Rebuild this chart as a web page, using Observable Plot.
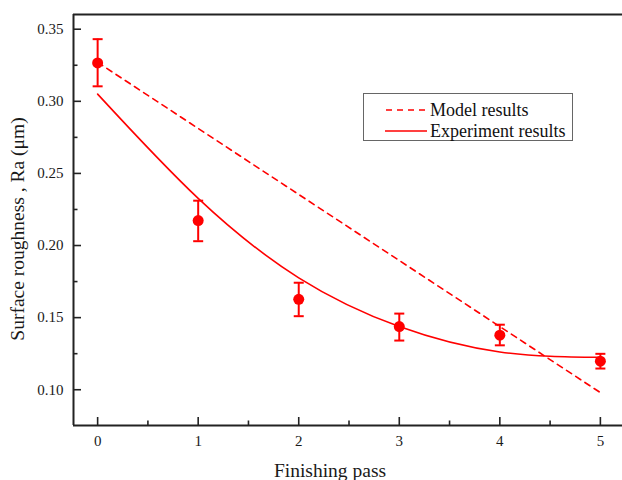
<!DOCTYPE html>
<html>
<head>
<meta charset="utf-8">
<script src="https://cdn.jsdelivr.net/npm/d3@7"></script>
<script src="https://cdn.jsdelivr.net/npm/@observablehq/plot@0.6"></script>
<style>
  body { margin: 0; background: #fff; }
  #wrap { position: relative; width: 622px; height: 480px; }
  #legend {
    position: absolute; left: 363px; top: 93px; width: 210px; height: 48px;
    border: 1px solid #666; background: #fff;
    font-family: "Liberation Serif", "Times New Roman", serif; font-size: 18px; color: #111;
    box-sizing: border-box;
  }
  .row { position: absolute; left: 21px; display: flex; align-items: center; line-height: 20px; }
  .row svg { margin-right: 3px; }
</style>
</head>
<body>
<div id="wrap">
  <div id="chart"></div>
  <div id="legend">
    <div class="row" style="top:6px"><svg width="42" height="10"><line x1="1" y1="5" x2="42" y2="5" stroke="#f00" stroke-width="1.6" stroke-dasharray="6,5"/></svg><span>Model results</span></div>
    <div class="row" style="top:27px"><svg width="42" height="10"><line x1="0" y1="5" x2="42" y2="5" stroke="#f00" stroke-width="1.6"/></svg><span>Experiment results</span></div>
  </div>
</div>
<script>
// ---- data ----
const passes   = [0, 1, 2, 3, 4, 5];
const measured = [0.3266, 0.2173, 0.1627, 0.1438, 0.1378, 0.1198];
const errLow   = [0.3104, 0.2030, 0.1510, 0.1341, 0.1308, 0.1147];
const errHigh  = [0.3431, 0.2311, 0.1742, 0.1528, 0.1451, 0.1249];

const modelX = [0, 5];
const modelY = [0.327, 0.098];

const fitX = [0, 1, 2, 3, 4, 5];
const fitY = [0.305, 0.2327, 0.1776, 0.1438, 0.1262, 0.1225];

const xTicks = [0, 1, 2, 3, 4, 5];
const xMinor = [0.5, 1.5, 2.5, 3.5, 4.5];
const yTicks = [0.10, 0.15, 0.20, 0.25, 0.30, 0.35];
const yMinor = [0.125, 0.175, 0.225, 0.275, 0.325];

const xDomain = [-0.24, 5.22];
const yDomain = [0.0752, 0.3602];

const xTitle = "Finishing pass";
const yTitle = "Surface roughness , Ra (μm)";

// ---- build ----
const pts = passes.map((p, i) => ({x: p, y: measured[i], lo: errLow[i], hi: errHigh[i]}));
const model = modelX.map((x, i) => ({x, y: modelY[i]}));
const fit = fitX.map((x, i) => ({x, y: fitY[i]}));

const W = 622, H = 480, mL = 73, mR = 0, mT = 14, mB = 55;
const plotW = W - mL - mR, plotH = H - mT - mB;
const red = "#ff0000";
const frameColor = "#222";

const capSymbol = {
  draw(ctx, size) {
    const r = Math.sqrt(size / Math.PI);
    ctx.moveTo(-r, 0);
    ctx.lineTo(r, 0);
  }
};

const chart = Plot.plot({
  width: W, height: H,
  marginLeft: mL, marginRight: mR, marginTop: mT, marginBottom: mB,
  style: {fontFamily: "'Liberation Serif', 'Times New Roman', serif", background: "#fff", overflow: "visible"},
  x: {domain: xDomain, ticks: xTicks, tickSize: 0, tickPadding: 10, tickFormat: d3.format("d"),
      label: xTitle, labelAnchor: "center", labelOffset: 51},
  y: {domain: yDomain, ticks: yTicks, tickSize: 0, tickPadding: 10, tickFormat: d3.format(".2f"),
      label: yTitle, labelAnchor: "center", labelOffset: 63},
  marks: [
    // inward ticks
    Plot.tickY(yTicks, {y: d => d, stroke: frameColor, strokeWidth: 1.6, insetRight: plotW - 8}),
    Plot.tickY(yMinor, {y: d => d, stroke: frameColor, strokeWidth: 1.6, insetRight: plotW - 4.5}),
    Plot.tickX(xTicks, {x: d => d, stroke: frameColor, strokeWidth: 1.6, insetTop: plotH - 8}),
    Plot.tickX(xMinor, {x: d => d, stroke: frameColor, strokeWidth: 1.6, insetTop: plotH - 4.5}),
    // frame: left, top, bottom
    Plot.ruleX([xDomain[0]], {stroke: frameColor, strokeWidth: 2}),
    Plot.ruleY([yDomain[1]], {stroke: frameColor, strokeWidth: 2}),
    Plot.ruleY([yDomain[0]], {stroke: frameColor, strokeWidth: 2}),
    // model line
    Plot.line(model, {x: "x", y: "y", stroke: red, strokeWidth: 1.6, strokeDasharray: "6,5"}),
    // fitted experiment curve
    Plot.line(fit, {x: "x", y: "y", stroke: red, strokeWidth: 1.6, curve: "natural"}),
    // error bars
    Plot.ruleX(pts, {x: "x", y1: "lo", y2: "hi", stroke: red, strokeWidth: 2}),
    Plot.dot(pts, {x: "x", y: "hi", symbol: capSymbol, r: 5, stroke: red, strokeWidth: 2, fill: "none"}),
    Plot.dot(pts, {x: "x", y: "lo", symbol: capSymbol, r: 5, stroke: red, strokeWidth: 2, fill: "none"}),
    // points
    Plot.dot(pts, {x: "x", y: "y", r: 5.5, fill: red, stroke: "none"})
  ]
});

// font sizes for ticks and labels
chart.querySelectorAll('[aria-label="x-axis tick label"], [aria-label="y-axis tick label"]').forEach(g => {
  g.setAttribute("font-size", "15"); g.style.fontSize = "15px"; g.setAttribute("fill", "#1a1a1a");
});
const xl = chart.querySelector('[aria-label="x-axis label"]');
const yl = chart.querySelector('[aria-label="y-axis label"]');
[xl, yl].forEach(g => {
  if (!g) return;
  g.setAttribute("font-size", "19.5"); g.style.fontSize = "19.5px"; g.setAttribute("fill", "#1a1a1a");
});
if (xl) xl.querySelectorAll("text").forEach(t => { t.textContent = xTitle; t.setAttribute("dx", "-18"); });
if (yl) yl.querySelectorAll("text").forEach(t => { t.textContent = yTitle; t.setAttribute("dx", "-9"); });
document.getElementById("chart").appendChild(chart);
</script>
</body>
</html>
